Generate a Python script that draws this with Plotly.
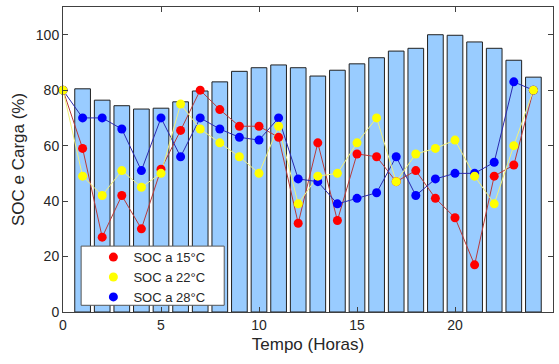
import plotly.graph_objects as go

# Hourly load (bars) and state of charge at three temperatures
hours_load = list(range(1, 25))
carga = [80.5, 76.4, 74.4, 73.2, 73.5, 75.8, 79.7, 83.0, 86.8, 88.1, 89.1, 88.1,
         85.1, 87.2, 89.5, 91.7, 94.1, 95.1, 100.0, 99.8, 97.4, 95.1, 90.8, 84.7]

hours = list(range(0, 25))
soc_15 = [80, 59, 27, 42, 30, 51.5, 65.5, 80, 73, 67, 67, 63, 32, 61, 33, 57,
          56, 47, 51, 41, 34, 17, 49, 53, 80]
soc_22 = [80, 49, 42, 51, 45, 50, 75, 66, 61, 56, 50, 67, 39, 49, 50, 61,
          70, 47, 57, 59, 62, 49, 39, 60, 80]
soc_28 = [80, 70, 70, 66, 51, 70, 56, 70, 66, 63, 62, 70, 48, 47, 39, 41,
          43, 56, 42, 48, 50, 50, 54, 83, 80]

x_ticks = [0, 5, 10, 15, 20, 25]
y_ticks = [0, 20, 40, 60, 80, 100]

FONT = "Liberation Sans, Arial, Helvetica, sans-serif"
TXT = "#262626"

fig = go.Figure()

fig.add_trace(go.Bar(
    x=hours_load, y=carga, width=0.8,
    marker=dict(color="#99ccff", line=dict(color="#202020", width=1)),
    showlegend=False, hoverinfo="skip",
))

series = [
    ("SOC a 15°C", soc_15, "#ff0000", "#b83a3a", 1),
    ("SOC a 28°C", soc_28, "#0000ff", "#2a2ab0", 3),
    ("SOC a 22°C", soc_22, "#ffff00", "#f2f27a", 2),
]

for name, vals, mcol, lcol, rank in series:
    fig.add_trace(go.Scatter(
        x=hours, y=vals, mode="lines",
        line=dict(color=lcol, width=1),
        showlegend=False, hoverinfo="skip", cliponaxis=False,
    ))
for name, vals, mcol, lcol, rank in series:
    fig.add_trace(go.Scatter(
        x=hours, y=vals, mode="markers", name=name, legendrank=rank,
        marker=dict(color=mcol, size=9, line=dict(width=0)),
        cliponaxis=False,
    ))

# legend frame
fig.add_shape(type="rect", xref="paper", yref="paper",
              x0=0.037, x1=0.329, y0=0.022, y1=0.216,
              fillcolor="white", line=dict(color="#555555", width=1), layer="above")

fig.update_layout(
    width=559, height=364,
    margin=dict(l=63, r=6, t=7, b=52),
    paper_bgcolor="white", plot_bgcolor="white",
    font=dict(family=FONT, color=TXT, size=14),
    bargap=0.2,
    legend=dict(
        x=0.062, y=0.229, xanchor="left", yanchor="top",
        bgcolor="rgba(0,0,0,0)", borderwidth=0,
        font=dict(size=13, color=TXT, family=FONT),
        tracegroupgap=0, itemsizing="trace",
    ),
    xaxis=dict(
        range=[0, 25], tickvals=x_ticks, ticks="inside", ticklen=5,
        tickcolor="#404040", showline=True, linecolor="#404040", linewidth=1,
        mirror="ticks", showgrid=False, zeroline=False,
        title=dict(text="Tempo (Horas)", font=dict(size=17), standoff=6),
        tickfont=dict(size=14),
    ),
    yaxis=dict(
        range=[0, 110], tickvals=y_ticks, ticks="inside", ticklen=5,
        tickcolor="#404040", showline=True, linecolor="#404040", linewidth=1,
        mirror="ticks", showgrid=False, zeroline=False,
        title=dict(text="SOC e Carga (%)", font=dict(size=17), standoff=6),
        tickfont=dict(size=14),
    ),
)

fig.write_html("out.html")
